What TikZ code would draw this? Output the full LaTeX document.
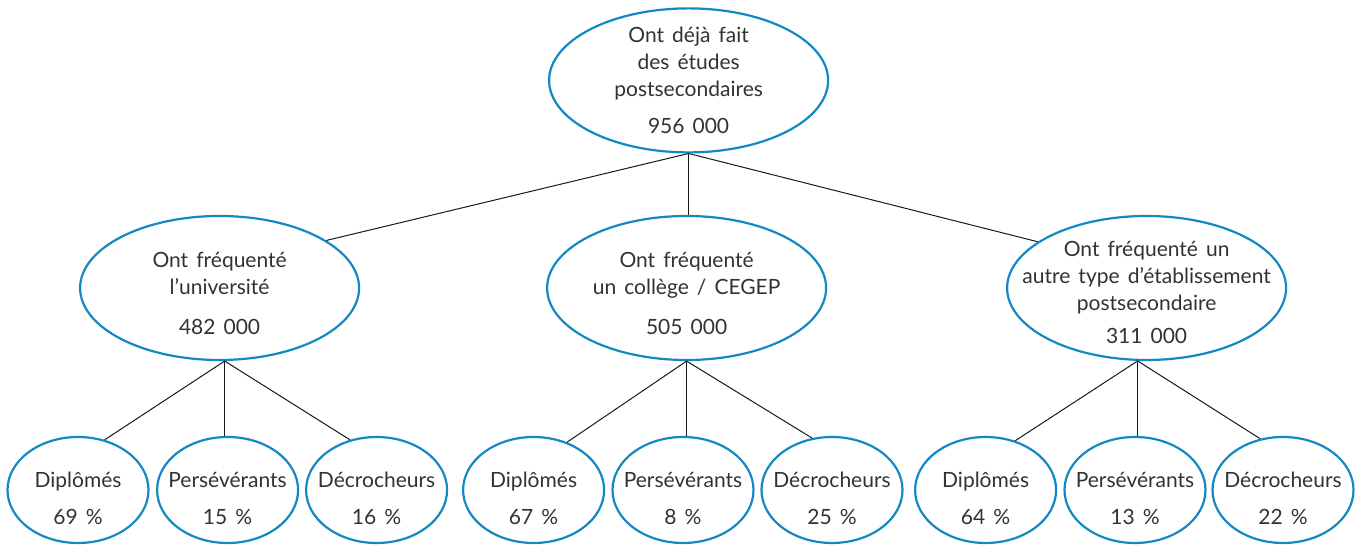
\documentclass[tikz,border=0pt]{standalone}
\usepackage{fontspec}
\setmainfont{Lato}[WordSpace=1.5]
\usetikzlibrary{shapes.geometric}
\definecolor{ovalblue}{RGB}{20,136,194}
\definecolor{textgray}{RGB}{50,50,50}

\begin{document}
\begin{tikzpicture}[x=1pt,y=1pt]
        \tikzstyle{oval}=[ellipse, draw=ovalblue, line width=1.1pt, inner sep=0pt]
        \tikzstyle{big}=[oval, minimum width=139.5pt, minimum height=72pt]
        \tikzstyle{small}=[oval, minimum width=70.5pt, minimum height=53pt]
        \tikzstyle{every label}=[align=center, text=textgray, inner sep=0pt,
            font=\fontsize{10.5}{13.5}\selectfont]
        \tikzstyle{link}=[draw=black!90, line width=0.5pt]

        \useasboundingbox (0,0) rectangle (679.5,272.5);

        % total
        \node[big, label={center:{Ont déjà fait\\des études\\postsecondaires\\[5pt]956 000}}] (tot) at (344.3,232.3) {};

        % type d'etablissement
        \node[big, label={[yshift=-2.5pt]center:{Ont fréquenté\\l’université\\[6.5pt]482 000}}] (univ) at (109.8,128.5) {};
        \node[big, label={[yshift=-2.5pt]center:{Ont fréquenté\\un collège / CEGEP\\[6.5pt]505 000}}] (cegep) at (343.3,128.5) {};
        \node[big, label={[yshift=-2pt]center:{Ont fréquenté un\\autre type d’établissement\\postsecondaire\\[3pt]311 000}}] (autre) at (573.3,128.5) {};

        % statut
        \node[small, label={[yshift=-4pt]center:{Diplômés\\[5pt]69 \%}}] (univ1) at (39,27.5) {};
        \node[small, label={[yshift=-4pt]center:{Persévérants\\[5pt]15 \%}}] (univ2) at (113.8,27.5) {};
        \node[small, label={[yshift=-4pt]center:{Décrocheurs\\[5pt]16 \%}}] (univ3) at (188.3,27.5) {};

        \node[small, label={[yshift=-4pt]center:{Diplômés\\[5pt]67 \%}}] (cegep1) at (266.8,27.5) {};
        \node[small, label={[yshift=-4pt]center:{Persévérants\\[5pt]8 \%}}] (cegep2) at (341.5,27.5) {};
        \node[small, label={[yshift=-4pt]center:{Décrocheurs\\[5pt]25 \%}}] (cegep3) at (416,27.5) {};

        \node[small, label={[yshift=-4pt]center:{Diplômés\\[5pt]64 \%}}] (autre1) at (492.8,27.5) {};
        \node[small, label={[yshift=-4pt]center:{Persévérants\\[5pt]13 \%}}] (autre2) at (567.5,27.5) {};
        \node[small, label={[yshift=-4pt]center:{Décrocheurs\\[5pt]22 \%}}] (autre3) at (641.5,27.5) {};

        % liens
        \draw[link] (tot.south) -- (univ.24);
        \draw[link] (tot.south) -- (tot.south |- cegep.north);
        \draw[link] (tot.south) -- (autre.157);

        \draw[link] (univ.274) -- (univ1.62);
        \draw[link] (univ.274) -- (univ.274 |- univ2.north);
        \draw[link] (univ.274) -- (univ3.118);

        \draw[link] (cegep.south) -- (cegep1.55);
        \draw[link] (cegep.south) -- (cegep.south |- cegep2.north);
        \draw[link] (cegep.south) -- (cegep3.111);

        \draw[link] (autre.263) -- (autre1.59);
        \draw[link] (autre.263) -- (autre.263 |- autre2.north);
        \draw[link] (autre.263) -- (autre3.114);

\end{tikzpicture}
\end{document}
